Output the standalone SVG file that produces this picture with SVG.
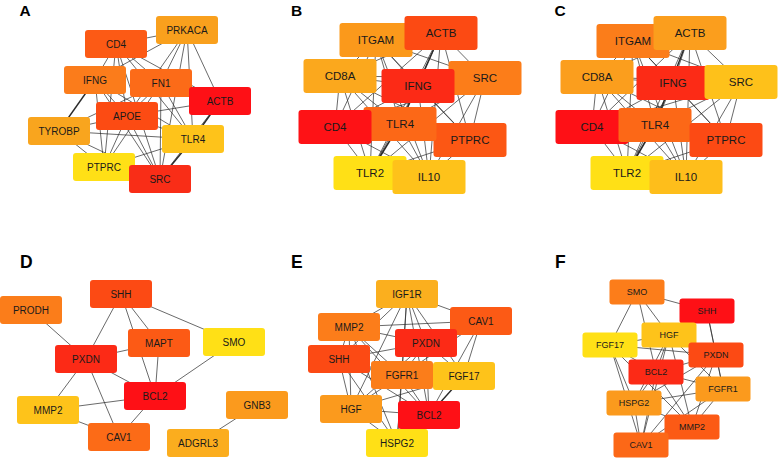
<svg xmlns="http://www.w3.org/2000/svg" width="778" height="458" viewBox="0 0 778 458">
<style>
.e line{stroke:#2a2a2a;stroke-width:0.7}
.n rect{rx:3;ry:3}
.n text{font-family:"Liberation Sans",Arial,sans-serif;fill:#1a1a1a;text-anchor:middle;dominant-baseline:central}
.s10 text{font-size:10px}
.s11 text{font-size:11.5px}
.s9 text{font-size:9px}
.lab{font-family:"Liberation Sans",Arial,sans-serif;font-weight:bold;font-size:15.5px;fill:#000}
.lab2{font-family:"Liberation Sans",Arial,sans-serif;font-weight:bold;font-size:17.5px;fill:#000}
</style>
<rect width="778" height="458" fill="#fff"/>
<g id="panel-labels">
<text class="lab" x="19.5" y="16">A</text>
<text class="lab" x="291" y="16">B</text>
<text class="lab" x="554.5" y="16">C</text>
<text class="lab2" x="20" y="268">D</text>
<text class="lab2" x="291" y="268">E</text>
<text class="lab2" x="555" y="268">F</text>
</g>
<g id="connectors" class="e">
<!-- A -->
<line x1="116" y1="44" x2="187" y2="30"/><line x1="116" y1="44" x2="95" y2="80"/><line x1="116" y1="44" x2="161" y2="83"/><line x1="116" y1="44" x2="127" y2="116"/><line x1="116" y1="44" x2="220" y2="101"/><line x1="116" y1="44" x2="193" y2="139"/><line x1="116" y1="44" x2="160" y2="179"/><line x1="116" y1="44" x2="104" y2="167"/>
<line x1="187" y1="30" x2="161" y2="83"/><line x1="187" y1="30" x2="127" y2="116"/><line x1="187" y1="30" x2="95" y2="80"/><line x1="187" y1="30" x2="220" y2="101"/><line x1="187" y1="30" x2="193" y2="139"/><line x1="187" y1="30" x2="160" y2="179"/>
<line x1="95" y1="80" x2="127" y2="116"/><line x1="95" y1="80" x2="59" y2="131" style="stroke-width:1.4"/><line x1="95" y1="80" x2="104" y2="167"/><line x1="95" y1="80" x2="160" y2="179"/><line x1="95" y1="80" x2="193" y2="139"/>
<line x1="161" y1="83" x2="127" y2="116"/><line x1="161" y1="83" x2="220" y2="101"/><line x1="161" y1="83" x2="193" y2="139"/><line x1="161" y1="83" x2="160" y2="179"/><line x1="161" y1="83" x2="104" y2="167"/><line x1="161" y1="83" x2="59" y2="131"/>
<line x1="220" y1="101" x2="127" y2="116"/><line x1="220" y1="101" x2="193" y2="139" style="stroke-width:1.4"/><line x1="220" y1="101" x2="160" y2="179"/>
<line x1="127" y1="116" x2="59" y2="131"/><line x1="127" y1="116" x2="193" y2="139"/><line x1="127" y1="116" x2="160" y2="179"/><line x1="127" y1="116" x2="104" y2="167"/>
<line x1="59" y1="131" x2="193" y2="139"/><line x1="59" y1="131" x2="104" y2="167"/><line x1="59" y1="131" x2="160" y2="179"/>
<line x1="193" y1="139" x2="160" y2="179" style="stroke-width:1.4"/><line x1="193" y1="139" x2="104" y2="167"/><line x1="104" y1="167" x2="160" y2="179"/>
<!-- B -->
<line x1="376" y1="40" x2="441" y2="33"/><line x1="376" y1="40" x2="340" y2="76"/><line x1="376" y1="40" x2="418" y2="86"/><line x1="376" y1="40" x2="485" y2="78"/><line x1="376" y1="40" x2="335" y2="127"/><line x1="376" y1="40" x2="400" y2="124"/><line x1="376" y1="40" x2="470" y2="140"/><line x1="376" y1="40" x2="370" y2="173"/><line x1="376" y1="40" x2="429" y2="177"/>
<line x1="441" y1="33" x2="340" y2="76"/><line x1="441" y1="33" x2="418" y2="86"/><line x1="441" y1="33" x2="485" y2="78"/><line x1="441" y1="33" x2="335" y2="127"/><line x1="441" y1="33" x2="400" y2="124" style="stroke-width:1.4"/><line x1="441" y1="33" x2="470" y2="140"/><line x1="441" y1="33" x2="370" y2="173"/><line x1="441" y1="33" x2="429" y2="177"/>
<line x1="340" y1="76" x2="418" y2="86"/><line x1="340" y1="76" x2="485" y2="78"/><line x1="340" y1="76" x2="335" y2="127"/><line x1="340" y1="76" x2="400" y2="124"/><line x1="340" y1="76" x2="470" y2="140"/><line x1="340" y1="76" x2="370" y2="173"/><line x1="340" y1="76" x2="429" y2="177"/>
<line x1="418" y1="86" x2="485" y2="78"/><line x1="418" y1="86" x2="335" y2="127"/><line x1="418" y1="86" x2="400" y2="124"/><line x1="418" y1="86" x2="470" y2="140"/><line x1="418" y1="86" x2="370" y2="173"/><line x1="418" y1="86" x2="429" y2="177"/>
<line x1="485" y1="78" x2="335" y2="127"/><line x1="485" y1="78" x2="400" y2="124"/><line x1="485" y1="78" x2="470" y2="140"/><line x1="485" y1="78" x2="370" y2="173"/><line x1="485" y1="78" x2="429" y2="177"/>
<line x1="335" y1="127" x2="400" y2="124"/><line x1="335" y1="127" x2="470" y2="140"/><line x1="335" y1="127" x2="370" y2="173"/><line x1="335" y1="127" x2="429" y2="177"/>
<line x1="400" y1="124" x2="470" y2="140"/><line x1="400" y1="124" x2="370" y2="173" style="stroke-width:1.6"/><line x1="400" y1="124" x2="429" y2="177"/>
<line x1="470" y1="140" x2="370" y2="173"/><line x1="470" y1="140" x2="429" y2="177"/><line x1="370" y1="173" x2="429" y2="177"/>
<!-- C -->
<line x1="633" y1="41" x2="690" y2="33"/><line x1="633" y1="41" x2="597" y2="77"/><line x1="633" y1="41" x2="673" y2="83"/><line x1="633" y1="41" x2="741" y2="82"/><line x1="633" y1="41" x2="592" y2="127"/><line x1="633" y1="41" x2="655" y2="125"/><line x1="633" y1="41" x2="726" y2="140"/><line x1="633" y1="41" x2="627" y2="173"/><line x1="633" y1="41" x2="686" y2="177"/>
<line x1="690" y1="33" x2="597" y2="77"/><line x1="690" y1="33" x2="673" y2="83"/><line x1="690" y1="33" x2="741" y2="82"/><line x1="690" y1="33" x2="592" y2="127"/><line x1="690" y1="33" x2="655" y2="125" style="stroke-width:1.4"/><line x1="690" y1="33" x2="726" y2="140"/><line x1="690" y1="33" x2="627" y2="173"/><line x1="690" y1="33" x2="686" y2="177"/>
<line x1="597" y1="77" x2="673" y2="83"/><line x1="597" y1="77" x2="741" y2="82"/><line x1="597" y1="77" x2="592" y2="127"/><line x1="597" y1="77" x2="655" y2="125"/><line x1="597" y1="77" x2="726" y2="140"/><line x1="597" y1="77" x2="627" y2="173"/><line x1="597" y1="77" x2="686" y2="177"/>
<line x1="673" y1="83" x2="741" y2="82"/><line x1="673" y1="83" x2="592" y2="127"/><line x1="673" y1="83" x2="655" y2="125"/><line x1="673" y1="83" x2="726" y2="140"/><line x1="673" y1="83" x2="627" y2="173"/><line x1="673" y1="83" x2="686" y2="177"/>
<line x1="741" y1="82" x2="592" y2="127"/><line x1="741" y1="82" x2="655" y2="125"/><line x1="741" y1="82" x2="726" y2="140"/><line x1="741" y1="82" x2="627" y2="173"/><line x1="741" y1="82" x2="686" y2="177"/>
<line x1="592" y1="127" x2="655" y2="125"/><line x1="592" y1="127" x2="726" y2="140"/><line x1="592" y1="127" x2="627" y2="173"/><line x1="592" y1="127" x2="686" y2="177"/>
<line x1="655" y1="125" x2="726" y2="140"/><line x1="655" y1="125" x2="627" y2="173" style="stroke-width:1.6"/><line x1="655" y1="125" x2="686" y2="177"/>
<line x1="726" y1="140" x2="627" y2="173"/><line x1="726" y1="140" x2="686" y2="177"/><line x1="627" y1="173" x2="686" y2="177"/>
<!-- D -->
<line x1="31" y1="310" x2="86" y2="359"/><line x1="121" y1="294" x2="86" y2="359"/><line x1="121" y1="294" x2="159" y2="343"/><line x1="121" y1="294" x2="234" y2="342"/><line x1="121" y1="294" x2="155" y2="396"/>
<line x1="159" y1="343" x2="86" y2="359"/><line x1="159" y1="343" x2="155" y2="396"/><line x1="234" y1="342" x2="155" y2="396"/>
<line x1="86" y1="359" x2="155" y2="396"/><line x1="86" y1="359" x2="48" y2="410"/><line x1="86" y1="359" x2="119" y2="437"/>
<line x1="48" y1="410" x2="155" y2="396"/><line x1="48" y1="410" x2="119" y2="437"/><line x1="155" y1="396" x2="119" y2="437"/><line x1="257" y1="405" x2="198" y2="443"/>
<!-- E -->
<line x1="407" y1="294" x2="349" y2="327"/><line x1="407" y1="294" x2="481" y2="321"/><line x1="407" y1="294" x2="426" y2="343"/><line x1="407" y1="294" x2="339" y2="359"/><line x1="407" y1="294" x2="402" y2="375"/><line x1="407" y1="294" x2="464" y2="376"/><line x1="407" y1="294" x2="351" y2="409"/><line x1="407" y1="294" x2="429" y2="415"/><line x1="407" y1="294" x2="397" y2="443"/>
<line x1="481" y1="321" x2="349" y2="327"/><line x1="481" y1="321" x2="426" y2="343"/><line x1="481" y1="321" x2="464" y2="376"/><line x1="481" y1="321" x2="429" y2="415"/><line x1="481" y1="321" x2="402" y2="375"/>
<line x1="349" y1="327" x2="426" y2="343"/><line x1="349" y1="327" x2="339" y2="359"/><line x1="349" y1="327" x2="402" y2="375"/><line x1="349" y1="327" x2="351" y2="409"/><line x1="349" y1="327" x2="429" y2="415"/><line x1="349" y1="327" x2="397" y2="443"/>
<line x1="426" y1="343" x2="339" y2="359"/><line x1="426" y1="343" x2="402" y2="375"/><line x1="426" y1="343" x2="464" y2="376"/><line x1="426" y1="343" x2="429" y2="415"/><line x1="426" y1="343" x2="351" y2="409"/>
<line x1="339" y1="359" x2="402" y2="375"/><line x1="339" y1="359" x2="351" y2="409"/><line x1="339" y1="359" x2="429" y2="415"/><line x1="339" y1="359" x2="397" y2="443"/>
<line x1="402" y1="375" x2="464" y2="376"/><line x1="402" y1="375" x2="351" y2="409"/><line x1="402" y1="375" x2="429" y2="415"/><line x1="402" y1="375" x2="397" y2="443"/>
<line x1="464" y1="376" x2="429" y2="415" style="stroke-width:1.4"/><line x1="464" y1="376" x2="351" y2="409"/>
<line x1="351" y1="409" x2="429" y2="415"/><line x1="351" y1="409" x2="397" y2="443"/><line x1="429" y1="415" x2="397" y2="443"/>
<!-- F -->
<line x1="637" y1="292" x2="707" y2="311"/><line x1="637" y1="292" x2="610" y2="345"/><line x1="637" y1="292" x2="669" y2="335"/><line x1="637" y1="292" x2="656" y2="372"/>
<line x1="707" y1="311" x2="716" y2="355"/><line x1="707" y1="311" x2="723" y2="389"/>
<line x1="669" y1="335" x2="610" y2="345"/><line x1="669" y1="335" x2="656" y2="372"/><line x1="669" y1="335" x2="716" y2="355"/><line x1="669" y1="335" x2="723" y2="389"/><line x1="669" y1="335" x2="634" y2="403"/><line x1="669" y1="335" x2="692" y2="427"/><line x1="669" y1="335" x2="641" y2="445"/>
<line x1="610" y1="345" x2="656" y2="372"/><line x1="610" y1="345" x2="716" y2="355"/><line x1="610" y1="345" x2="634" y2="403"/><line x1="610" y1="345" x2="692" y2="427"/><line x1="610" y1="345" x2="641" y2="445"/>
<line x1="716" y1="355" x2="656" y2="372"/><line x1="716" y1="355" x2="723" y2="389"/><line x1="716" y1="355" x2="634" y2="403"/><line x1="716" y1="355" x2="692" y2="427"/><line x1="716" y1="355" x2="641" y2="445"/>
<line x1="656" y1="372" x2="723" y2="389"/><line x1="656" y1="372" x2="634" y2="403"/><line x1="656" y1="372" x2="692" y2="427"/><line x1="656" y1="372" x2="641" y2="445"/>
<line x1="723" y1="389" x2="634" y2="403"/><line x1="723" y1="389" x2="692" y2="427"/><line x1="723" y1="389" x2="641" y2="445"/>
<line x1="634" y1="403" x2="692" y2="427"/><line x1="634" y1="403" x2="641" y2="445"/><line x1="692" y1="427" x2="641" y2="445"/>
</g>
<!-- Panel A nodes -->
<g id="a-prkaca" class="n s10"><rect x="156" y="16" width="62" height="28" fill="#F9A01D"/><text x="187" y="30">PRKACA</text></g>
<g id="a-cd4" class="n s10"><rect x="85" y="30" width="62" height="28" fill="#FC5A15"/><text x="116" y="44">CD4</text></g>
<g id="a-ifng" class="n s10"><rect x="64" y="66" width="62" height="28" fill="#FB7C1B"/><text x="95" y="80">IFNG</text></g>
<g id="a-fn1" class="n s10"><rect x="130" y="69" width="62" height="28" fill="#FC6B18"/><text x="161" y="83">FN1</text></g>
<g id="a-actb" class="n s10"><rect x="189" y="87" width="62" height="28" fill="#FE1016"/><text x="220" y="101">ACTB</text></g>
<g id="a-apoe" class="n s10"><rect x="96" y="102" width="62" height="28" fill="#FC4B13"/><text x="127" y="116">APOE</text></g>
<g id="a-tyrobp" class="n s10"><rect x="28" y="117" width="62" height="28" fill="#F9A51E"/><text x="59" y="131">TYROBP</text></g>
<g id="a-tlr4" class="n s10"><rect x="162" y="125" width="62" height="28" fill="#FEC31A"/><text x="193" y="139">TLR4</text></g>
<g id="a-ptprc" class="n s10"><rect x="73" y="153" width="62" height="28" fill="#FFE016"/><text x="104" y="167">PTPRC</text></g>
<g id="a-src" class="n s10"><rect x="129" y="165" width="62" height="28" fill="#F92D17"/><text x="160" y="179">SRC</text></g>
<!-- Panel B nodes -->
<g id="b-itgam" class="n s11"><rect x="339.5" y="23" width="73" height="34" fill="#FB991B"/><text x="376" y="40">ITGAM</text></g>
<g id="b-actb" class="n s11"><rect x="404.5" y="16" width="73" height="34" fill="#FC4A13"/><text x="441" y="33">ACTB</text></g>
<g id="b-cd8a" class="n s11"><rect x="303.5" y="59" width="73" height="34" fill="#FBA81D"/><text x="340" y="76">CD8A</text></g>
<g id="b-src" class="n s11"><rect x="448.5" y="61" width="73" height="34" fill="#FC7D19"/><text x="485" y="78">SRC</text></g>
<g id="b-ifng" class="n s11"><rect x="381.5" y="69" width="73" height="34" fill="#FC2A16"/><text x="418" y="86">IFNG</text></g>
<g id="b-ptprc" class="n s11"><rect x="433.5" y="123" width="73" height="34" fill="#FC5714"/><text x="470" y="140">PTPRC</text></g>
<g id="b-tlr4" class="n s11"><rect x="363.5" y="107" width="73" height="34" fill="#FC6817"/><text x="400" y="124">TLR4</text></g>
<g id="b-cd4" class="n s11"><rect x="298.5" y="110" width="73" height="34" fill="#FE1216"/><text x="335" y="127">CD4</text></g>
<g id="b-tlr2" class="n s11"><rect x="333.5" y="156" width="73" height="34" fill="#FFE016"/><text x="370" y="173">TLR2</text></g>
<g id="b-il10" class="n s11"><rect x="392.5" y="160" width="73" height="34" fill="#FEC21A"/><text x="429" y="177">IL10</text></g>
<!-- Panel C nodes -->
<g id="c-itgam" class="n s11"><rect x="596.5" y="24" width="73" height="34" fill="#FB7D1A"/><text x="633" y="41">ITGAM</text></g>
<g id="c-actb" class="n s11"><rect x="653.5" y="16" width="73" height="34" fill="#FB9E1D"/><text x="690" y="33">ACTB</text></g>
<g id="c-cd8a" class="n s11"><rect x="560.5" y="60" width="73" height="34" fill="#FB9E1D"/><text x="597" y="77">CD8A</text></g>
<g id="c-ifng" class="n s11"><rect x="636.5" y="66" width="73" height="34" fill="#FC2B16"/><text x="673" y="83">IFNG</text></g>
<g id="c-src" class="n s11"><rect x="704.5" y="65" width="73" height="34" fill="#FEC11A"/><text x="741" y="82">SRC</text></g>
<g id="c-cd4" class="n s11"><rect x="555.5" y="110" width="73" height="34" fill="#FE1016"/><text x="592" y="127">CD4</text></g>
<g id="c-tlr4" class="n s11"><rect x="618.5" y="108" width="73" height="34" fill="#FC6817"/><text x="655" y="125">TLR4</text></g>
<g id="c-ptprc" class="n s11"><rect x="689.5" y="123" width="73" height="34" fill="#FC4A14"/><text x="726" y="140">PTPRC</text></g>
<g id="c-tlr2" class="n s11"><rect x="590.5" y="156" width="73" height="34" fill="#FFE016"/><text x="627" y="173">TLR2</text></g>
<g id="c-il10" class="n s11"><rect x="649.5" y="160" width="73" height="34" fill="#FEBE1B"/><text x="686" y="177">IL10</text></g>
<!-- Panel D nodes -->
<g id="d-shh" class="n s10"><rect x="90" y="280" width="62" height="28" fill="#FC4A14"/><text x="121" y="294">SHH</text></g>
<g id="d-prodh" class="n s10"><rect x="0" y="296" width="62" height="28" fill="#FB7D1A"/><text x="31" y="310">PRODH</text></g>
<g id="d-mapt" class="n s10"><rect x="128" y="329" width="62" height="28" fill="#FC5A15"/><text x="159" y="343">MAPT</text></g>
<g id="d-smo" class="n s10"><rect x="203" y="328" width="62" height="28" fill="#FFE016"/><text x="234" y="342">SMO</text></g>
<g id="d-pxdn" class="n s10"><rect x="55" y="345" width="62" height="28" fill="#FC2A16"/><text x="86" y="359">PXDN</text></g>
<g id="d-bcl2" class="n s10"><rect x="124" y="382" width="62" height="28" fill="#FE1016"/><text x="155" y="396">BCL2</text></g>
<g id="d-mmp2" class="n s10"><rect x="17" y="396" width="62" height="28" fill="#FEC31A"/><text x="48" y="410">MMP2</text></g>
<g id="d-cav1" class="n s10"><rect x="88" y="423" width="62" height="28" fill="#FC6B17"/><text x="119" y="437">CAV1</text></g>
<g id="d-gnb3" class="n s10"><rect x="226" y="391" width="62" height="28" fill="#FB9A1D"/><text x="257" y="405">GNB3</text></g>
<g id="d-adgrl3" class="n s10"><rect x="167" y="429" width="62" height="28" fill="#FBAD1E"/><text x="198" y="443">ADGRL3</text></g>
<!-- Panel E nodes -->
<g id="e-igf1r" class="n s10"><rect x="376" y="280" width="62" height="28" fill="#FBAF1E"/><text x="407" y="294">IGF1R</text></g>
<g id="e-cav1" class="n s10"><rect x="450" y="307" width="62" height="28" fill="#FC5A15"/><text x="481" y="321">CAV1</text></g>
<g id="e-mmp2" class="n s10"><rect x="318" y="313" width="62" height="28" fill="#FC7D1A"/><text x="349" y="327">MMP2</text></g>
<g id="e-pxdn" class="n s10"><rect x="395" y="329" width="62" height="28" fill="#FC2A16"/><text x="426" y="343">PXDN</text></g>
<g id="e-shh" class="n s10"><rect x="308" y="345" width="62" height="28" fill="#FC4A14"/><text x="339" y="359">SHH</text></g>
<g id="e-fgf17" class="n s10"><rect x="433" y="362" width="62" height="28" fill="#FEC31A"/><text x="464" y="376">FGF17</text></g>
<g id="e-fgfr1" class="n s10"><rect x="371" y="361" width="62" height="28" fill="#FB7D1A"/><text x="402" y="375">FGFR1</text></g>
<g id="e-hgf" class="n s10"><rect x="320" y="395" width="62" height="28" fill="#FB9A1D"/><text x="351" y="409">HGF</text></g>
<g id="e-bcl2" class="n s10"><rect x="398" y="401" width="62" height="28" fill="#FE1016"/><text x="429" y="415">BCL2</text></g>
<g id="e-hspg2" class="n s10"><rect x="366" y="429" width="62" height="28" fill="#FFE016"/><text x="397" y="443">HSPG2</text></g>
<!-- Panel F nodes -->
<g id="f-smo" class="n s9"><rect x="609.5" y="279.5" width="55" height="25" fill="#FC7D1A"/><text x="637" y="292">SMO</text></g>
<g id="f-shh" class="n s9"><rect x="679.5" y="298.5" width="55" height="25" fill="#FE1016"/><text x="707" y="311">SHH</text></g>
<g id="f-hgf" class="n s9"><rect x="641.5" y="322.5" width="55" height="25" fill="#FEC31A"/><text x="669" y="335">HGF</text></g>
<g id="f-fgf17" class="n s9"><rect x="582.5" y="332.5" width="55" height="25" fill="#FFE016"/><text x="610" y="345">FGF17</text></g>
<g id="f-pxdn" class="n s9"><rect x="688.5" y="342.5" width="55" height="25" fill="#FC4A14"/><text x="716" y="355">PXDN</text></g>
<g id="f-bcl2" class="n s9"><rect x="628.5" y="359.5" width="55" height="25" fill="#FC2A16"/><text x="656" y="372">BCL2</text></g>
<g id="f-fgfr1" class="n s9"><rect x="695.5" y="376.5" width="55" height="25" fill="#FB9A1D"/><text x="723" y="389">FGFR1</text></g>
<g id="f-hspg2" class="n s9"><rect x="606.5" y="390.5" width="55" height="25" fill="#FB9A1D"/><text x="634" y="403">HSPG2</text></g>
<g id="f-mmp2" class="n s9"><rect x="664.5" y="414.5" width="55" height="25" fill="#FC5A15"/><text x="692" y="427">MMP2</text></g>
<g id="f-cav1" class="n s9"><rect x="613.5" y="432.5" width="55" height="25" fill="#FC6817"/><text x="641" y="445">CAV1</text></g>
</svg>
